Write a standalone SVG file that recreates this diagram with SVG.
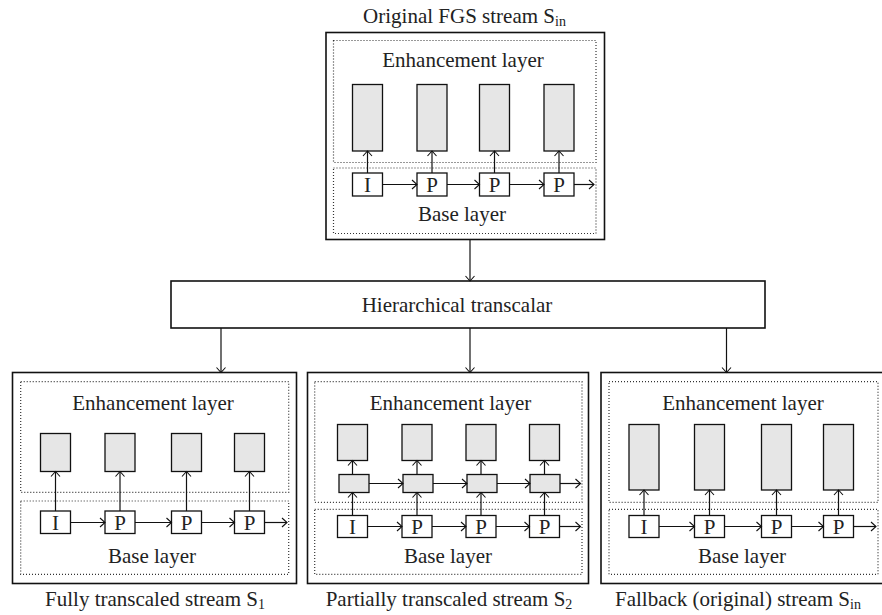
<svg xmlns="http://www.w3.org/2000/svg" width="882" height="615" viewBox="0 0 882 615">
<style>
text{font-family:"Liberation Serif","Times New Roman",serif;font-size:21px;fill:#222;text-anchor:middle}
.sub{font-size:14px}
.outer{fill:#fff;stroke:#111;stroke-width:1.6}
.dot{fill:none;stroke:#333;stroke-width:1.2;stroke-dasharray:1 2}
.eb{fill:#e6e6e6;stroke:#111;stroke-width:1.3}
.fb{fill:#fff;stroke:#111;stroke-width:1.3}
.ln{fill:none;stroke:#111;stroke-width:1.2;marker-end:url(#ah)}
</style>
<defs>
<marker id="ah" viewBox="-6 -6 8 12" markerWidth="8" markerHeight="12" refX="0" refY="0" orient="auto" markerUnits="userSpaceOnUse">
<path d="M-5,-4.5 L0,0 L-5,4.5" fill="none" stroke="#111" stroke-width="1.1"/>
</marker>
</defs>

<g id="top">
<text x="464.5" y="23">Original FGS stream S<tspan class="sub" dy="3">in</tspan></text>
<rect class="outer" x="326" y="32.5" width="278.5" height="207"/>
<rect class="dot" x="333.5" y="40.5" width="262.5" height="122"/>
<rect class="dot" x="333.5" y="168" width="262.5" height="65.5"/>
<text x="463" y="67">Enhancement layer</text>
<text x="462" y="221">Base layer</text>
<rect class="eb" x="352.5" y="84.5" width="30" height="66.5"/>
<rect class="eb" x="417" y="84.5" width="30" height="66.5"/>
<rect class="eb" x="479.5" y="84.5" width="30" height="66.5"/>
<rect class="eb" x="544" y="84.5" width="30" height="66.5"/>
<rect class="fb" x="352.5" y="173" width="30" height="23"/>
<rect class="fb" x="417" y="173" width="30" height="23"/>
<rect class="fb" x="479.5" y="173" width="30" height="23"/>
<rect class="fb" x="544" y="173" width="30" height="23"/>
<text x="367.5" y="192">I</text>
<text x="432" y="192">P</text>
<text x="494.5" y="192">P</text>
<text x="559" y="192">P</text>
<path class="ln" d="M367.5,173 V151"/>
<path class="ln" d="M432,173 V151"/>
<path class="ln" d="M494.5,173 V151"/>
<path class="ln" d="M559,173 V151"/>
<path class="ln" d="M382.5,184.5 H417"/>
<path class="ln" d="M447,184.5 H479.5"/>
<path class="ln" d="M509.5,184.5 H544"/>
<path class="ln" d="M574,184.5 H594"/>
</g>

<g id="transcalar">
<rect class="outer" x="171" y="281" width="594" height="47"/>
<text x="457" y="312">Hierarchical transcalar</text>
</g>

<g id="panel1">
<rect class="outer" x="12.5" y="372.5" width="284" height="211"/>
<rect class="dot" x="20.7" y="381.7" width="268" height="110.6"/>
<rect class="dot" x="20.7" y="501" width="268" height="73.3"/>
<text x="153" y="410">Enhancement layer</text>
<text x="152" y="563">Base layer</text>
<rect class="eb" x="40.5" y="433.5" width="30" height="38"/>
<rect class="eb" x="105" y="433.5" width="30" height="38"/>
<rect class="eb" x="171.5" y="433.5" width="30" height="38"/>
<rect class="eb" x="234.5" y="433.5" width="30" height="38"/>
<rect class="fb" x="40.5" y="511" width="30" height="22.5"/>
<rect class="fb" x="105" y="511" width="30" height="22.5"/>
<rect class="fb" x="171.5" y="511" width="30" height="22.5"/>
<rect class="fb" x="234.5" y="511" width="30" height="22.5"/>
<text x="55.5" y="530">I</text>
<text x="120" y="530">P</text>
<text x="186.5" y="530">P</text>
<text x="249.5" y="530">P</text>
<path class="ln" d="M55.5,511 V471.5"/>
<path class="ln" d="M120,511 V471.5"/>
<path class="ln" d="M186.5,511 V471.5"/>
<path class="ln" d="M249.5,511 V471.5"/>
<path class="ln" d="M70.5,522.5 H105"/>
<path class="ln" d="M135,522.5 H171.5"/>
<path class="ln" d="M201.5,522.5 H234.5"/>
<path class="ln" d="M264.5,522.5 H287"/>
<text x="155" y="606">Fully transcaled stream S<tspan class="sub" dy="3">1</tspan></text>
</g>

<g id="panel2">
<rect class="outer" x="307.5" y="372.5" width="281" height="211"/>
<rect class="dot" x="314.7" y="381.7" width="267.3" height="120.6"/>
<rect class="dot" x="314.7" y="509.3" width="267.3" height="65"/>
<text x="450.5" y="410">Enhancement layer</text>
<text x="448" y="563">Base layer</text>
<rect class="eb" x="337.5" y="424.5" width="30" height="36"/>
<rect class="eb" x="402" y="424.5" width="30" height="36"/>
<rect class="eb" x="466" y="424.5" width="30" height="36"/>
<rect class="eb" x="529.5" y="424.5" width="30" height="36"/>
<rect class="eb" x="339" y="474.5" width="30" height="18"/>
<rect class="eb" x="403" y="474.5" width="30" height="18"/>
<rect class="eb" x="467" y="474.5" width="30" height="18"/>
<rect class="eb" x="530" y="474.5" width="30" height="18"/>
<rect class="fb" x="337.5" y="515.5" width="30" height="22"/>
<rect class="fb" x="402" y="515.5" width="30" height="22"/>
<rect class="fb" x="466" y="515.5" width="30" height="22"/>
<rect class="fb" x="529.5" y="515.5" width="30" height="22"/>
<text x="352.5" y="534">I</text>
<text x="417" y="534">P</text>
<text x="481" y="534">P</text>
<text x="544.5" y="534">P</text>
<path class="ln" d="M352.5,515.5 V492.5"/>
<path class="ln" d="M417,515.5 V492.5"/>
<path class="ln" d="M481,515.5 V492.5"/>
<path class="ln" d="M544.5,515.5 V492.5"/>
<path class="ln" d="M352.5,474.5 V460.5"/>
<path class="ln" d="M417,474.5 V460.5"/>
<path class="ln" d="M481,474.5 V460.5"/>
<path class="ln" d="M544.5,474.5 V460.5"/>
<path class="ln" d="M369,483.5 H403"/>
<path class="ln" d="M433,483.5 H467"/>
<path class="ln" d="M497,483.5 H530"/>
<path class="ln" d="M560,483.5 H580.5"/>
<path class="ln" d="M367.5,526.5 H402"/>
<path class="ln" d="M432,526.5 H466"/>
<path class="ln" d="M496,526.5 H529.5"/>
<path class="ln" d="M559.5,526.5 H580.5"/>
<text x="449" y="606">Partially transcaled stream S<tspan class="sub" dy="3">2</tspan></text>
</g>

<g id="panel3">
<rect class="outer" x="601" y="372.5" width="290" height="211"/>
<rect class="dot" x="609" y="381.7" width="269" height="120.6"/>
<rect class="dot" x="609" y="509.3" width="269" height="65"/>
<text x="743" y="410">Enhancement layer</text>
<text x="742" y="563">Base layer</text>
<rect class="eb" x="629" y="424.5" width="30" height="65.5"/>
<rect class="eb" x="694.5" y="424.5" width="30" height="65.5"/>
<rect class="eb" x="761.5" y="424.5" width="30" height="65.5"/>
<rect class="eb" x="823.5" y="424.5" width="30" height="65.5"/>
<rect class="fb" x="629" y="515.5" width="30" height="22"/>
<rect class="fb" x="694.5" y="515.5" width="30" height="22"/>
<rect class="fb" x="761.5" y="515.5" width="30" height="22"/>
<rect class="fb" x="823.5" y="515.5" width="30" height="22"/>
<text x="644" y="534">I</text>
<text x="709.5" y="534">P</text>
<text x="776.5" y="534">P</text>
<text x="838.5" y="534">P</text>
<path class="ln" d="M644,515.5 V490"/>
<path class="ln" d="M709.5,515.5 V490"/>
<path class="ln" d="M776.5,515.5 V490"/>
<path class="ln" d="M838.5,515.5 V490"/>
<path class="ln" d="M659,526.5 H694.5"/>
<path class="ln" d="M724.5,526.5 H761.5"/>
<path class="ln" d="M791.5,526.5 H823.5"/>
<path class="ln" d="M853.5,526.5 H876"/>
<text x="738" y="606">Fallback (original) stream S<tspan class="sub" dy="3">in</tspan></text>
</g>

<g id="connectors">
<path class="ln" d="M470,240 V281"/>
<path class="ln" d="M221,328 V372.5"/>
<path class="ln" d="M470,328 V372.5"/>
<path class="ln" d="M726.5,328 V372.5"/>
</g>
</svg>
